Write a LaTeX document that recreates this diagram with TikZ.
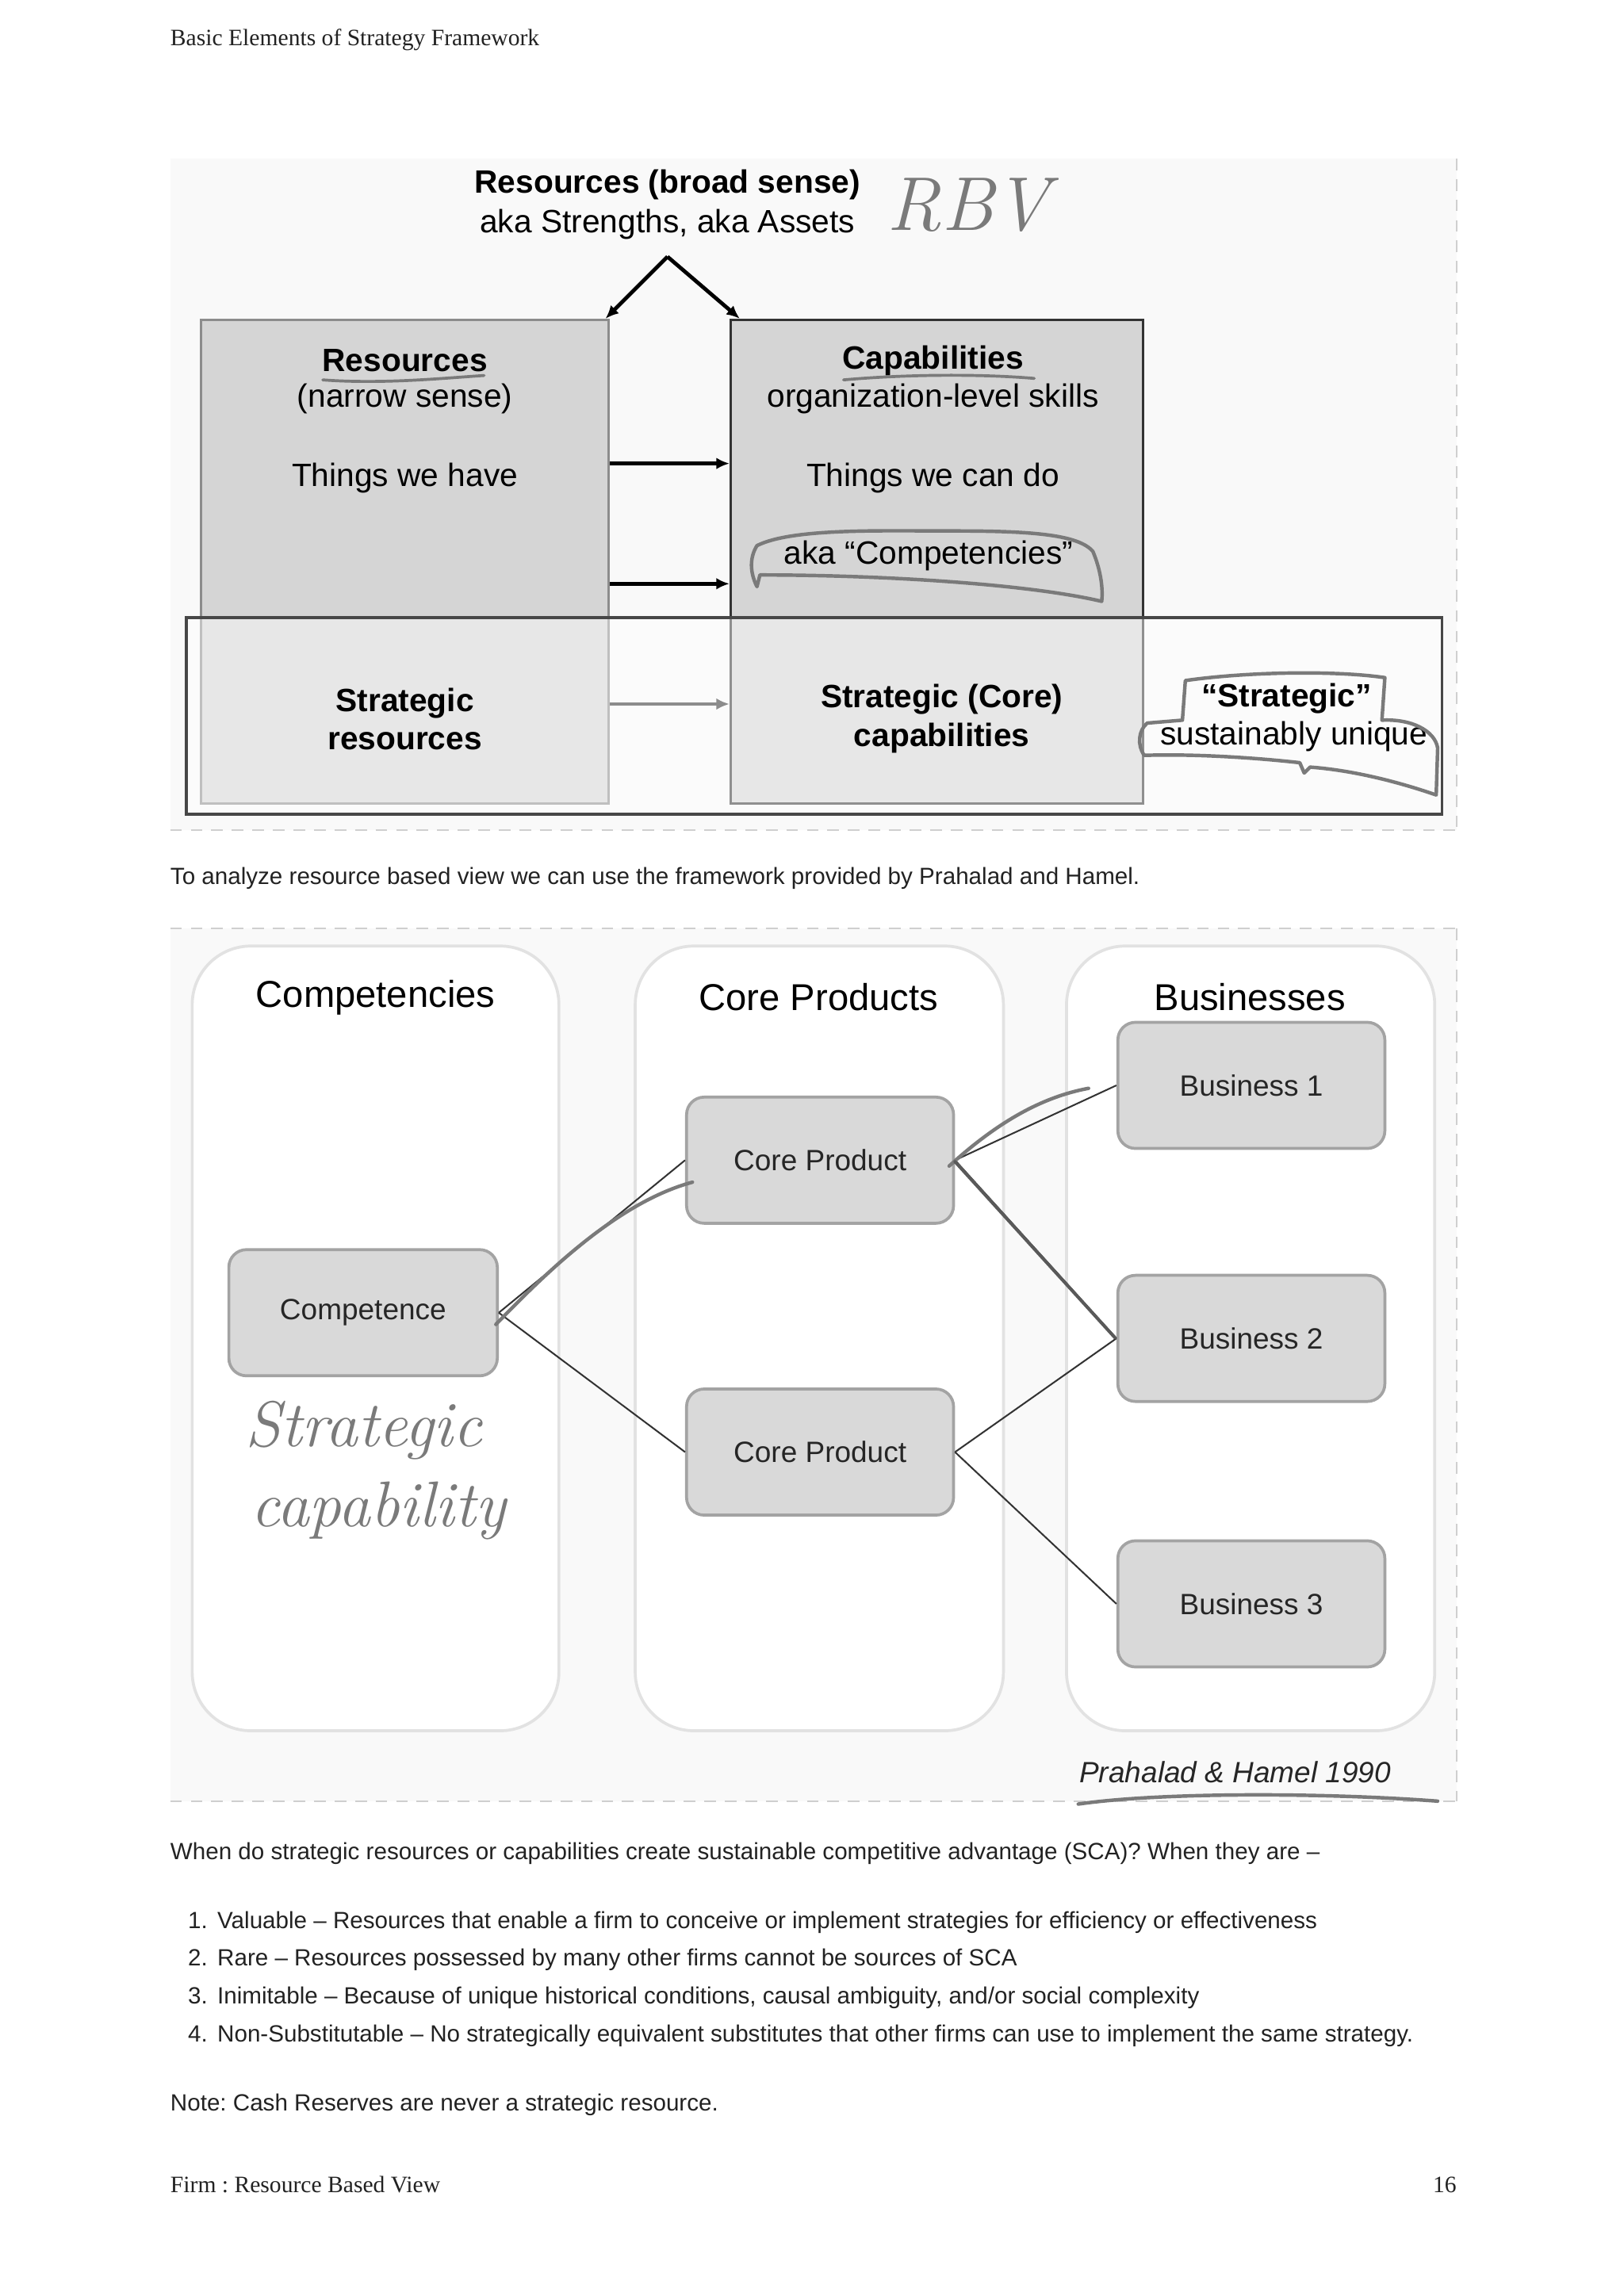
\documentclass[tikz,border=0pt]{standalone}
\usepackage{fontspec}
\newfontfamily\sansf{Liberation Sans}
\newfontfamily\seriff{Liberation Serif}
\usetikzlibrary{arrows.meta}
\definecolor{txt}{HTML}{222222}
\definecolor{dbg}{HTML}{F9F9F9}
\definecolor{dash}{HTML}{CFCFCF}
\definecolor{boxfill}{HTML}{D5D5D5}
\definecolor{bxfill}{HTML}{D9D9D9}
\definecolor{bxline}{HTML}{A3A3A3}
\definecolor{colline}{HTML}{E2E2E2}
\definecolor{hand}{HTML}{7A7A7A}
\frenchspacing
\begin{document}
\begin{tikzpicture}[x=1pt,y=-1pt,
  bodytext/.style={font=\sansf\fontsize{16}{19}\selectfont, text=txt, inner sep=0, anchor=base west},
  serftext/.style={font=\seriff\fontsize{16}{19}\selectfont, text=txt, inner sep=0, anchor=base west},
  dashline/.style={draw=dash, line width=1.2, dash pattern=on 8pt off 6pt},
  topbox/.style={fill=boxfill, line width=1.5, inner sep=0},
  dtxt/.style={font=\sansf\fontsize{22}{26}\selectfont, text=black, inner sep=0},
  dtxtb/.style={font=\sansf\bfseries\fontsize{22}{26}\selectfont, text=black, inner sep=0},
  arr/.style={line width=2.6, -{Latex[length=9pt,width=8pt]}},
  col/.style={draw=colline, line width=2, fill=white, rounded corners=40, inner sep=0},
  coltitle/.style={font=\sansf\fontsize{25.5}{30}\selectfont, text=black, inner sep=0},
  bx/.style={draw=bxline, fill=bxfill, line width=2, rounded corners=12, inner sep=0,
     minimum width=182, minimum height=86, font=\sansf\fontsize{20}{24}\selectfont, text=black!85},
  link/.style={draw=black!80, line width=1.1},
  handline/.style={draw=hand, line width=2.4, line cap=round, line join=round},
  handtext/.style={font=\itshape, text=hand, inner sep=0}
]
\useasboundingbox[fill=white] (0,0) rectangle (1107,1565.4);

% ---------- header ----------
\node[serftext] (hdr) at (116,31) {Basic Elements of Strategy Framework};

% ---------- diagram 1 ----------
\fill[dbg] (116,108) rectangle (993,566);
\draw[dashline] (116,566) -- (993,566);
\draw[dashline] (993,108) -- (993,566);

\node[topbox, draw=black!45, minimum width=278, minimum height=330] (resL) at (276,383) {};
\node[topbox, draw=black!80, minimum width=281, minimum height=330] (capR) at (638.5,383) {};
\node[draw=black!72, line width=2, fill=white, fill opacity=0.45, minimum width=856, minimum height=134, inner sep=0] (strat) at (555,488) {};

\node[dtxtb] (broad) at (455,126) {Resources (broad sense)};
\node[dtxt] (aka) at (455,153) {aka Strengths, aka Assets};
\node[handtext, font=\itshape\fontsize{52}{56}\selectfont] (rbv) at (660,140) {RBV};

\coordinate (apex) at (455,175);
\draw[arr] (apex) -- ([xshift=-3]resL.north east);
\draw[arr] (apex) -- ([xshift=7]capR.north west);

\node[dtxtb] (resT) at (276,246) {Resources};
\node[dtxt] (narrow) at (276,272) {(narrow sense)};
\node[dtxt] (have) at (276,326) {Things we have};

\node[dtxtb] (capT) at (636,246) {Capabilities};
\node[dtxt] (skills) at (636,272) {organization-level skills};
\node[dtxt] (cando) at (636,326) {Things we can do};
\node[dtxt] (compet) at (633,379) {aka “Competencies”};

\draw[handline, line width=2] (220,259) .. controls (260,262) and (300,258) .. (330,256);
\draw[handline, line width=2] (575,259) .. controls (620,255) and (670,255) .. (705,258);
% cloud around aka Competencies
\draw[handline] (516,372) .. controls (540,360) and (600,362) .. (650,362)
  .. controls (700,362) and (735,364) .. (745,376)
  .. controls (750,388) and (752,400) .. (751,410)
  .. controls (700,398) and (600,392) .. (518,392)
  -- (516,400) .. controls (511,390) and (511,380) .. (516,372);

\draw[arr] (resL.east |- 0,316) -- (capR.west |- 0,316);
\draw[arr] (resL.east |- 0,398) -- (capR.west |- 0,398);
\draw[arr, draw=black!45, line width=2.4] (resL.east |- 0,480) -- (capR.west |- 0,480);

\node[dtxtb, align=center, font=\sansf\bfseries\fontsize{22}{26}\selectfont] (sres) at (276,490) {Strategic\\resources};
\node[dtxtb, align=center, font=\sansf\bfseries\fontsize{22}{26}\selectfont] (scap) at (642,490) {Strategic (Core)\\capabilities};
\node[dtxtb] (strq) at (877,476) {“Strategic”};
\node[dtxt] (uniq) at (882,502) {sustainably unique};
% cloud around Strategic
\draw[handline] (806,491) -- (808,464) .. controls (850,458) and (910,457) .. (944,462)
  -- (942,491) .. controls (962,490) and (978,498) .. (980,510)
  -- (979,542) .. controls (950,532) and (920,525) .. (893,523) -- (889,527) -- (886,520)
  .. controls (850,516) and (810,514) .. (780,515)
  .. controls (775,508) and (776,498) .. (782,493) -- (806,491);

% ---------- caption ----------
\node[bodytext] (cap1) at (116,603) {To analyze resource based view we can use the framework provided by Prahalad and Hamel.};

% ---------- diagram 2 ----------
\fill[dbg] (116,633) rectangle (993,1228);
\draw[dashline] (116,633) -- (993,633);
\draw[dashline] (993,633) -- (993,1228);
\draw[dashline] (116,1228) -- (993,1228);

\node[col, minimum width=250, minimum height=535] (c1) at (256,912.5) {};
\node[col, minimum width=251, minimum height=535] (c2) at (558.5,912.5) {};
\node[col, minimum width=251, minimum height=535] (c3) at (852.5,912.5) {};
\node[coltitle] (t1) at (256,680) {Competencies};
\node[coltitle] (t2) at (558,680) {Core Products};
\node[coltitle] (t3) at (852,680) {Businesses};

\node[bx, minimum width=183] (comp) at (247.5,895) {Competence};
\node[bx] (cp1) at (559,791) {Core Product};
\node[bx] (cp2) at (559,990) {Core Product};
\node[bx] (b1) at (853,740) {Business 1};
\node[bx] (b2) at (853,912.5) {Business 2};
\node[bx] (b3) at (853,1093.5) {Business 3};

\draw[link] (comp.east) -- (cp1.west);
\draw[link] (comp.east) -- (cp2.west);
\draw[link] (cp1.east) -- (b1.west);
\draw[link] (cp1.east) -- (b2.west);
\draw[link] (cp2.east) -- (b2.west);
\draw[link] (cp2.east) -- (b3.west);

% hand strokes
\draw[handline] (338,903) .. controls (370,870) and (420,820) .. (472,806);
\draw[handline] (647,795) .. controls (680,765) and (710,748) .. (742,742);
\draw[handline, draw=black!65, line width=2.2] (651,792) -- (760,912);
\node[handtext, font=\itshape\fontsize{44}{48}\selectfont] (strat1) at (248,975) {Strategic};
\node[handtext, font=\itshape\fontsize{44}{48}\selectfont] (strat2) at (258,1030) {capability};

\node[font=\sansf\itshape\fontsize{20}{24}\selectfont, text=black!85, inner sep=0] (ph) at (842,1208) {Prahalad \& Hamel 1990};
\draw[handline] (735,1230) .. controls (790,1222) and (900,1222) .. (980,1228);

% ---------- text ----------
\node[bodytext] (q) at (116,1268) {When do strategic resources or capabilities create sustainable competitive advantage (SCA)? When they are –};
\node[bodytext] (n1) at (128,1315) {1.};
\node[bodytext] (l1) at (148,1315) {Valuable – Resources that enable a firm to conceive or implement strategies for efficiency or effectiveness};
\node[bodytext] (n2) at (128,1340) {2.};
\node[bodytext] (l2) at (148,1340) {Rare – Resources possessed by many other firms cannot be sources of SCA};
\node[bodytext] (n3) at (128,1366) {3.};
\node[bodytext] (l3) at (148,1366) {Inimitable – Because of unique historical conditions, causal ambiguity, and/or social complexity};
\node[bodytext] (n4) at (128,1392) {4.};
\node[bodytext] (l4) at (148,1392) {Non-Substitutable – No strategically equivalent substitutes that other firms can use to implement the same strategy.};
\node[bodytext] (note) at (116,1439) {Note: Cash Reserves are never a strategic resource.};

% ---------- footer ----------
\node[serftext] (ftl) at (116,1495) {Firm : Resource Based View};
\node[serftext, anchor=base east] (ftr) at (993,1495) {16};
\end{tikzpicture}
\end{document}
